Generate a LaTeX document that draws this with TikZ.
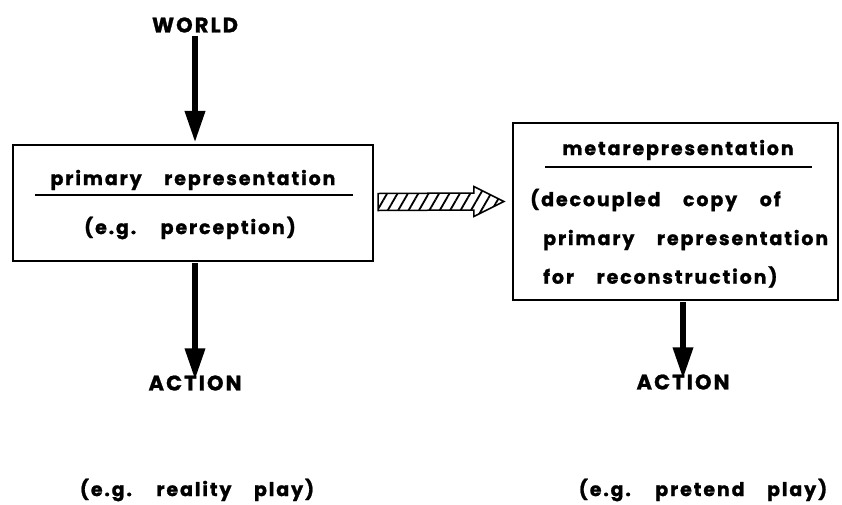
\documentclass[tikz,border=0pt]{standalone}
\usepackage{fontspec}
\setmainfont{Poppins}[LetterSpace=10,WordSpace={3.8,1,1},BoldFeatures={FakeBold=1.2}]
\usetikzlibrary{arrows.meta,patterns.meta,calc}
\begin{document}
\begin{tikzpicture}[x=1pt,y=-1pt,
  txt/.style={font=\bfseries\fontsize{19}{21}\selectfont, inner sep=0pt},
  captxt/.style={font=\bfseries\fontsize{21}{23}\selectfont, inner sep=0pt},
  boxnode/.style={draw, line width=2.2pt, inner sep=0pt},
  bigarrow/.style={line width=6.5pt, -{Triangle[length=32pt,width=19pt]}},
]
\useasboundingbox (0,0) rectangle (842,504);
% left column
\node[captxt] (world) at (195,25) {WORLD};
\node[boxnode, minimum width=360pt, minimum height=116pt] (box1) at (193,203) {};
\node[txt] (t1) at (193,180) {primary representation};
\coordinate (u1a) at (35,195);
\coordinate (u1b) at (353,195);
\draw[line width=1.6pt] (u1a) -- (u1b);
\node[txt] (t2) at (190,228) {(e.g. perception)};
\node[captxt] (act1) at (195,383) {ACTION};
\node[txt] (ex1) at (197,490) {(e.g. reality play)};
\draw[bigarrow] ([yshift=-3pt]world.south) -- ([yshift=1pt]box1.north -| world.south);
\draw[bigarrow] ([yshift=-1pt]box1.south -| world.south) -- ([yshift=-5pt]act1.north);
% right column
\node[boxnode, minimum width=325pt, minimum height=177pt] (box2) at (675.5,211.5) {};
\node[txt] (m1) at (678,150) {metarepresentation};
\coordinate (u2a) at (545,167);
\coordinate (u2b) at (812,167);
\draw[line width=1.6pt] (u2a) -- (u2b);
\node[txt, anchor=west] (m2) at (530,200) {(decoupled copy of};
\node[txt, anchor=west] (m3) at (543,240) {primary representation};
\node[txt, anchor=west] (m4) at (543,277) {for reconstruction)};
\node[captxt] (act2) at (683,382) {ACTION};
\node[txt] (ex2) at (703,490) {(e.g. pretend play)};
\draw[bigarrow] ([yshift=-1pt]box2.south -| act2.north) -- ([yshift=-5pt]act2.north);
% hatched arrow
\coordinate (ha) at ($(box1.east)+(4,-1)$);
\coordinate (hb) at ($(box2.west)+(-8,-10)$);
\path[draw, line width=1.5pt, pattern={Lines[angle=60,distance=9pt,line width=1.8pt]}]
  ($(ha)+(0,-8.5)$) -- ($(hb)+(-30,-8.5)$) -- ($(hb)+(-30,-15)$) -- (hb)
  -- ($(hb)+(-30,15)$) -- ($(hb)+(-30,8.5)$) -- ($(ha)+(0,8.5)$) -- cycle;
\end{tikzpicture}
\end{document}
